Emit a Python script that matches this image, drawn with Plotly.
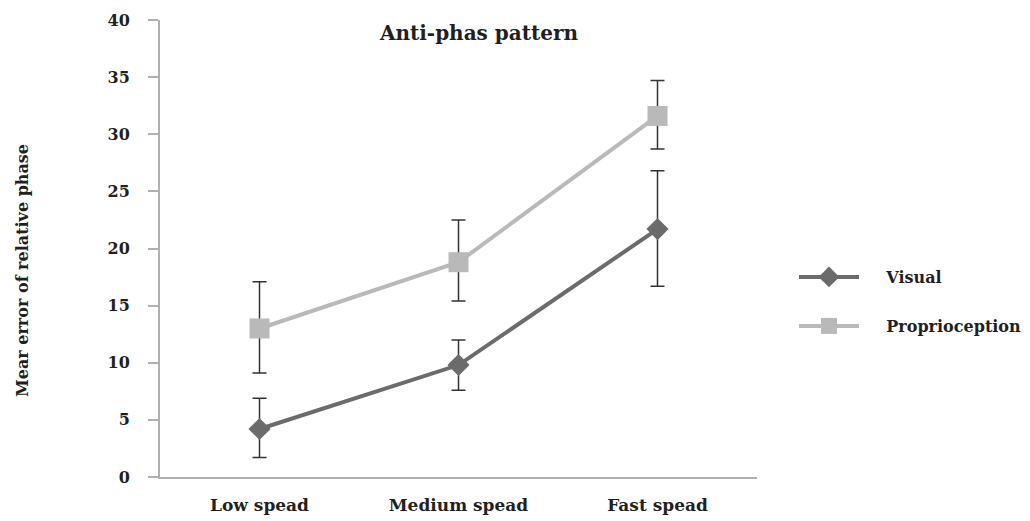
import plotly.graph_objects as go

categories = ["Low spead", "Medium spead", "Fast spead"]
visual = [4.2, 9.8, 21.7]
visual_err_plus = [2.7, 2.2, 5.1]
visual_err_minus = [2.5, 2.2, 5.0]
proprio = [13.0, 18.8, 31.6]
proprio_err_plus = [4.1, 3.7, 3.1]
proprio_err_minus = [3.9, 3.4, 2.9]
y_ticks = [0, 5, 10, 15, 20, 25, 30, 35, 40]

FONT = "DejaVu Serif"
TXT = "#231f20"
PAD = "\u00a0" * 4

fig = go.Figure()
fig.add_trace(go.Scatter(
    x=categories, y=visual, name="<b>" + PAD + "Visual</b>", mode="lines+markers",
    line=dict(color="#6b6b6b", width=4),
    marker=dict(symbol="diamond", size=17, color="#6b6b6b"),
    error_y=dict(type="data", symmetric=False, array=visual_err_plus,
                 arrayminus=visual_err_minus, color="#333333", thickness=1.5, width=7),
    legend="legend", showlegend=True,
))
fig.add_trace(go.Scatter(
    x=categories, y=proprio, name="<b>" + PAD + "Proprioception</b>", mode="lines+markers",
    line=dict(color="#b9b9b9", width=4),
    marker=dict(symbol="square", size=20, color="#b9b9b9"),
    error_y=dict(type="data", symmetric=False, array=proprio_err_plus,
                 arrayminus=proprio_err_minus, color="#333333", thickness=1.5, width=7),
    legend="legend2", showlegend=True,
))

# page body has an 8px margin; plot area is offset accordingly
L, T = 152, 12
R_EDGE, B_EDGE = 749, 469
fig.update_layout(
    width=1030, height=521,
    margin=dict(l=L, r=1030 - R_EDGE, t=T, b=521 - B_EDGE, autoexpand=False),
    showlegend=True,
    paper_bgcolor="white", plot_bgcolor="white",
    font=dict(family=FONT, color=TXT, size=16),
    title=dict(text="<b>Anti-phas pattern</b>", x=471/1030, xanchor="center",
               y=1 - 25/521, yanchor="middle", font=dict(size=20, family=FONT, color=TXT)),
    xaxis=dict(type="category", range=[-0.5, 2.5], showline=True, linecolor="#b0b0b0",
               linewidth=2, ticks="", showgrid=False, zeroline=False, automargin=False,
               tickfont=dict(size=17, family=FONT, color=TXT), ticklabelstandoff=12,
               tickvals=categories, ticktext=["<b>%s</b>" % c for c in categories]),
    yaxis=dict(range=[0, 40], tickvals=y_ticks, ticktext=["<b>%d</b>" % t for t in y_ticks],
               showline=True, linecolor="#b0b0b0", linewidth=2, ticks="outside",
               ticklen=10, tickcolor="#b0b0b0", tickwidth=1.5, showgrid=False, zeroline=False,
               automargin=False,
               tickfont=dict(size=16, family=FONT, color=TXT), ticklabelstandoff=15),
    annotations=[dict(text="<b>Mear error of relative phase</b>", textangle=-90,
                      xref="paper", yref="paper", x=(14 - L) / (R_EDGE - L),
                      y=(B_EDGE - 263) / (B_EDGE - T), xanchor="center", yanchor="middle",
                      showarrow=False, font=dict(size=16, family=FONT, color=TXT))],
    legend=dict(x=(786 - L) / (R_EDGE - L), y=(B_EDGE - 269) / (B_EDGE - T),
                xanchor="left", yanchor="middle",
                font=dict(size=16, family=FONT, color=TXT), bgcolor="rgba(0,0,0,0)",
                itemwidth=60),
    legend2=dict(x=(786 - L) / (R_EDGE - L), y=(B_EDGE - 318) / (B_EDGE - T),
                 xanchor="left", yanchor="middle",
                 font=dict(size=16, family=FONT, color=TXT), bgcolor="rgba(0,0,0,0)",
                 itemwidth=60),
)

fig.write_html("out.html")
